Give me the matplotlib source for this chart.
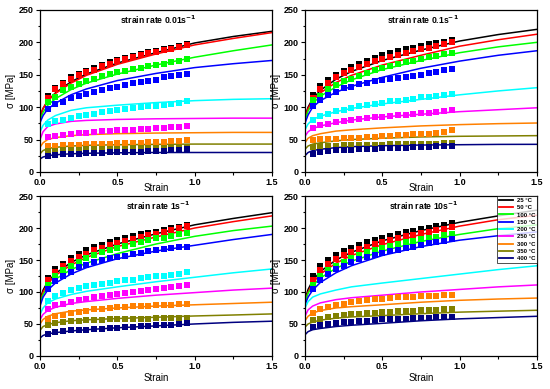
import matplotlib
matplotlib.use("Agg")
import matplotlib.pyplot as plt
from matplotlib.ticker import MultipleLocator

plt.rcParams['font.family'] = ['Liberation Sans', 'DejaVu Sans']

temps = ["25 °C", "50 °C", "100 °C", "150 °C", "200 °C", "250 °C", "300 °C", "350 °C", "400 °C"]
colors = ["#000000", "#FF0000", "#00FF00", "#0000FF", "#00FFFF", "#FF00FF", "#FF8000", "#808000", "#000080"]
rate_titles = ["strain rate 0.01s$^{\\mathbf{-1}}$", "strain rate 0.1s$^{\\mathbf{-1}}$",
               "strain rate 1s$^{\\mathbf{-1}}$", "strain rate 10s$^{\\mathbf{-1}}$"]

exp_strain = [0.05, 0.10, 0.15, 0.20, 0.25, 0.30, 0.35, 0.40, 0.45, 0.50,
              0.55, 0.60, 0.65, 0.70, 0.75, 0.80, 0.85, 0.90, 0.95]
fit_strain = [0.0, 0.02, 0.05, 0.1, 0.2, 0.3, 0.5, 0.75, 1.0, 1.25, 1.5]

# ---- strain rate 0.01 s^-1 ----
exp_r001 = [
    [117, 130, 138, 146, 151, 156, 160, 165, 169, 173, 176, 179, 182, 185, 187, 190, 192, 195, 198],
    [114, 128, 136, 144, 149, 154, 158, 163, 167, 171, 174, 177, 180, 183, 185, 188, 190, 193, 196],
    [108, 116, 126, 131, 136, 140, 144, 148, 151, 154.5, 156.5, 159, 161, 163, 165, 167, 169, 171, 174.5],
    [97, 104.7, 108, 113.5, 116.5, 120, 124, 127, 129, 131, 133.5, 136.5, 139, 140.6, 142, 146, 148, 149.4, 150.4],
    [74.4, 78, 80.6, 83.7, 85.7, 88, 90, 92, 94.5, 96, 97.5, 98.6, 100, 101, 102, 103, 104.7, 106, 108.8],
    [54.4, 56, 57.5, 58.5, 60, 60.6, 61.5, 62.5, 63.2, 64, 64.5, 65, 66, 66.5, 67.5, 68.5, 69, 70, 71.4],
    [39.5, 40, 40.8, 41.6, 42, 42.6, 43, 43.3, 43.6, 44, 44.3, 44.7, 45.2, 45.7, 46.2, 46.7, 47.3, 48.5, 49.5],
    [32, 33, 33.5, 34, 34.4, 34.8, 35, 35.2, 35.5, 35.8, 36, 36.2, 36.4, 36.6, 36.8, 37, 37.2, 37.5, 38],
    [24.6, 26, 27, 27.7, 28.2, 28.7, 29, 29.5, 30, 30.3, 30.7, 31, 31.4, 31.8, 32.3, 32.8, 33.5, 34.5, 35.5],
]
fit_r001 = [
    [85, 98, 110, 122, 139, 151, 168, 184, 199, 209, 217],
    [86, 98, 110, 121, 137, 149, 166, 182, 196, 206, 215],
    [80, 92, 103, 113, 127, 137, 151, 165, 177, 187, 196],
    [76, 87, 97, 106, 119, 128, 141, 152, 161, 167, 172],
    [62, 72, 80, 87, 95, 99, 103, 107, 110, 112, 113],
    [50, 62, 70, 74, 78, 79.5, 81, 82, 82.5, 83, 83],
    [38, 45, 50, 53, 56, 57.5, 59, 60, 60.5, 61, 61],
    [28, 33, 36, 38, 40, 41, 42, 42.5, 43, 43, 43],
    [20, 23, 25, 26.5, 28, 28.8, 29.5, 30, 30, 30, 30],
]

# ---- strain rate 0.1 s^-1 ----
exp_r01 = [
    [118, 133, 142, 149.4, 156, 161.7, 166.8, 171.5, 176, 180.7, 183, 187, 189.4, 192, 195, 197, 199.7, 201, 204],
    [114, 128, 138, 146, 152, 157.7, 162.5, 167, 171, 175, 178, 181, 184, 186.5, 189, 192, 195, 198, 201],
    [111, 117.5, 128, 134, 139.6, 144, 148, 152, 156.6, 160, 162.7, 167, 169, 171.5, 174, 177, 179, 181.7, 184],
    [102, 111, 118, 124, 129, 131.4, 135, 138, 140, 142, 143.7, 145, 147, 148, 149, 152, 154.5, 156.6, 158.6],
    [80.6, 85.7, 90, 93.4, 96, 98.6, 101, 102.7, 104.7, 106, 108.8, 110, 111.4, 113, 115, 116, 117.6, 118.6, 120.6],
    [68, 72, 74.4, 76.5, 78, 79.6, 81, 82.6, 84, 85.2, 86, 87.3, 88.3, 89.3, 90.3, 91.4, 92.4, 94, 96],
    [49.3, 50.3, 51, 51.5, 52, 52.5, 53, 53.5, 54, 54.8, 55.5, 56.5, 57, 57.8, 58.5, 59.2, 60, 62, 64.5],
    [38.5, 39.5, 40, 40.5, 40.8, 41.2, 41.5, 41.7, 42, 42.2, 42.4, 42.6, 42.8, 43, 43.2, 43.4, 43.7, 44, 44.5],
    [28, 31, 32.5, 33.5, 34, 34.5, 35, 35.5, 36, 36.5, 37, 37.3, 37.7, 38, 38.5, 39, 39.5, 40, 40.5],
]
fit_r01 = [
    [85, 100, 113, 126, 143, 155, 172, 188, 202, 212, 220],
    [84, 98, 110, 122, 138, 149, 165, 180, 194, 204, 212.5],
    [80, 94, 106, 117, 131, 142, 158, 172, 184, 193, 200],
    [75, 88, 100, 110, 123, 132, 146, 160, 171, 180, 187],
    [65, 74, 81, 86, 93, 98, 105, 112, 119, 125, 130],
    [55, 62, 67, 71, 76, 80, 85, 89, 93, 96, 99],
    [45, 52, 56, 59, 63, 65, 68, 71, 73, 74.5, 75.5],
    [35, 40, 43, 45, 48, 50, 52, 54, 55, 55.5, 56],
    [25, 30, 33, 35, 37.5, 39, 40.5, 41.5, 42, 42.5, 42.6],
]

# ---- strain rate 1 s^-1 ----
exp_r1 = [
    [121.6, 136, 144.3, 152.6, 159, 166, 170, 174, 177.4, 181.6, 184.7, 187.3, 190.4, 192.4, 194.5, 197, 199.7, 202, 205],
    [119, 131, 140, 148.5, 155, 160, 165, 169, 173, 177, 180, 183, 186, 188.5, 191, 194, 197, 200, 203],
    [111, 125.7, 135, 141, 147.4, 152.6, 157.8, 162, 165.5, 168.6, 172, 175, 178.5, 181, 183.7, 185, 187.8, 190.4, 192],
    [104, 116.4, 125.7, 132, 138.6, 142, 146.4, 150, 152.6, 155, 156.7, 158.8, 160.9, 163.5, 165.5, 167, 168.6, 169.7, 170.7],
    [86, 93.6, 98.3, 102.4, 106, 109, 111, 113, 114.8, 116.4, 118, 119.5, 121.6, 123, 124.7, 125.7, 127.3, 128.8, 131],
    [74, 79, 81.7, 85, 87.4, 89.5, 92, 93.6, 95.7, 97.3, 98.8, 100.4, 102, 103.5, 105, 106, 107.6, 109, 111],
    [58.5, 62.6, 64.7, 67.8, 69.3, 70.9, 73, 74, 75, 76, 77, 77.6, 78, 78.6, 79, 79.7, 80.2, 80.7, 81.2],
    [48, 51, 53, 54.5, 55.3, 56, 56.4, 56.8, 57.1, 57.4, 57.6, 57.9, 58.2, 58.5, 58.7, 58.9, 59.1, 59.3, 59.6],
    [35, 37.5, 39, 40, 40.7, 41.3, 42, 42.7, 43.5, 44.3, 45, 45.7, 46.3, 47, 47.6, 48.3, 49, 50, 51],
]
fit_r1 = [
    [88, 103, 116, 129, 146, 158, 175, 191, 205, 215, 224],
    [86, 100, 113, 126, 142, 154, 171, 186, 200, 210, 219],
    [82, 96, 108, 120, 135, 145, 160, 175, 187, 196, 203],
    [78, 92, 103, 114, 128, 138, 152, 164, 173, 182, 190],
    [65, 75, 83, 89, 96, 101, 108, 116, 123, 130, 136],
    [57, 65, 71, 76, 82, 85, 90, 95, 99, 103, 106],
    [50, 57, 62, 66, 70, 72, 75, 78, 80, 82, 84],
    [40, 46, 49, 52, 55, 56.5, 58.5, 60.5, 62.5, 64, 65.7],
    [28, 32, 34.5, 36.5, 39, 41, 44, 47, 50, 52.5, 54.3],
]

# ---- strain rate 10 s^-1 ----
exp_r10 = [
    [125.7, 140, 150, 157.8, 164, 169, 173.8, 177.4, 181.6, 185, 187.8, 190.9, 194, 196, 198.7, 200, 202.8, 205, 207.4],
    [119.5, 135, 143.8, 151.6, 157.8, 163, 167, 171, 174.9, 178.5, 181.6, 184, 187.3, 189.3, 192, 194.5, 196.6, 199, 201.8],
    [111, 125.7, 135, 141, 147.4, 153, 157.8, 162, 165.5, 168.6, 172, 175, 177.4, 180.5, 182.6, 184, 186.7, 189, 191.4],
    [105, 119.5, 128.3, 135.5, 141, 146.4, 151, 154, 157.8, 160.4, 163.5, 166, 168.6, 171, 173.3, 175.9, 178, 180, 182.6],
    None,
    None,
    [67.8, 73, 76.6, 79, 81.7, 84.3, 85.4, 87, 88.5, 89.5, 90.5, 91.6, 92, 92.6, 93, 93.6, 94.2, 94.7, 95.2],
    [56, 58.5, 60.5, 62, 63.6, 65, 66.2, 67.2, 67.8, 68.8, 69.3, 69.8, 70.4, 70.9, 71.4, 72, 72.4, 73, 73.5],
    [45.5, 48, 50.2, 51.7, 52.8, 53.8, 54.3, 55.4, 56.4, 57, 57.4, 58, 58.5, 59, 59.5, 60, 60.5, 60.5, 61],
]
fit_r10 = [
    [88, 104, 118, 132, 150, 162, 180, 196, 209, 219, 228],
    [85, 100, 114, 128, 145, 157, 174, 190, 203, 213, 220],
    [85, 98, 110, 122, 137, 148, 164, 179, 190, 199, 205],
    [80, 92, 103, 115, 130, 141, 157, 171, 181, 188, 194],
    [75, 85, 92, 97, 103, 108, 114, 121, 128, 135, 141],
    [62, 72, 78, 83, 88, 91, 95, 100, 104, 108, 111],
    [55, 62, 67, 71, 75, 77, 80, 84, 87, 89, 90.5],
    [45, 50, 53, 56, 59, 61, 63, 66, 68.5, 70, 71.4],
    [33, 38, 41, 43, 46, 48, 51, 55, 58, 60, 62],
]

panels = [(exp_r001, fit_r001), (exp_r01, fit_r01), (exp_r1, fit_r1), (exp_r10, fit_r10)]
rects = [
    [0.0727, 0.558, 0.4218, 0.4165],
    [0.5545, 0.558, 0.4218, 0.4165],
    [0.0727, 0.085, 0.4218, 0.411],
    [0.5545, 0.085, 0.4218, 0.411],
]

fig = plt.figure(figsize=(5.5, 3.89), dpi=100)
for i, ((exp, fit), rect) in enumerate(zip(panels, rects)):
    ax = fig.add_axes(rect)
    for j in range(len(temps)):
        ax.plot(fit_strain, fit[j], color=colors[j], lw=1.1, label=temps[j], zorder=2)
        if exp[j] is not None:
            ax.plot(exp_strain, exp[j], ls='none', marker='s', ms=4.0, mew=0,
                    color=colors[j], zorder=3)
    ax.set_xlim(0, 1.5)
    ax.set_ylim(0, 250)
    ax.xaxis.set_major_locator(MultipleLocator(0.5))
    ax.xaxis.set_minor_locator(MultipleLocator(0.25))
    ax.yaxis.set_major_locator(MultipleLocator(50))
    ax.yaxis.set_minor_locator(MultipleLocator(25))
    ax.xaxis.set_major_formatter(plt.FormatStrFormatter('%.1f'))
    ax.tick_params(which='major', direction='out', length=3, width=0.8, labelsize=6.5, pad=1.5)
    ax.tick_params(which='minor', direction='out', length=1.8, width=0.8)
    for lab in ax.get_xticklabels() + ax.get_yticklabels():
        lab.set_fontweight('bold')
    for sp in ax.spines.values():
        sp.set_linewidth(0.9)
    ax.set_xlabel("Strain", fontsize=7, labelpad=(-3 if i < 2 else 1.5))
    ax.set_ylabel("σ [MPa]", fontsize=7, labelpad=2)
    ax.text(0.51, 0.94, rate_titles[i], transform=ax.transAxes, ha='center', va='center',
            fontsize=6.2, fontweight='bold')
    if i == 3:
        leg = ax.legend(loc='upper right', fontsize=4.3, frameon=True, fancybox=False,
                        borderaxespad=0, handlelength=2.4, handletextpad=0.6,
                        labelspacing=0.35, borderpad=0.3, edgecolor='black')
        leg.get_frame().set_linewidth(0.6)
        for t in leg.get_texts():
            t.set_fontweight('bold')
        for h in leg.get_lines():
            h.set_linewidth(1.3)

fig.savefig("out.png", dpi=100)
